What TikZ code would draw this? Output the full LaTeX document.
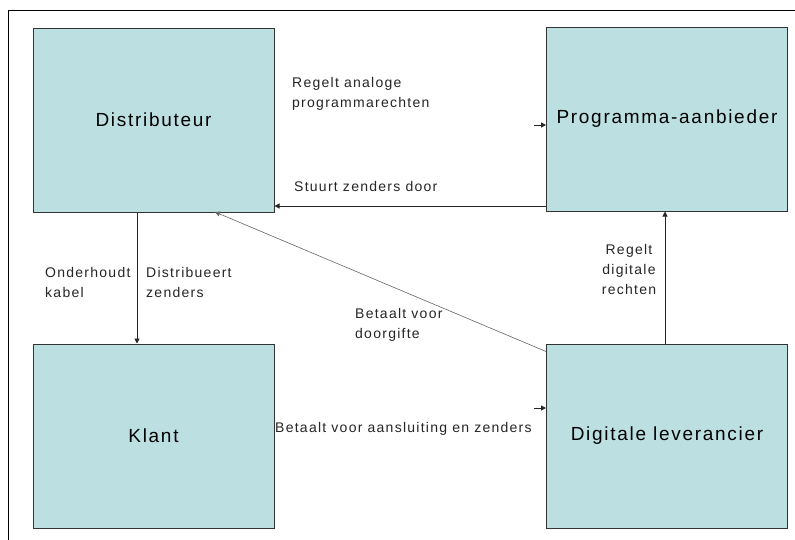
\documentclass[tikz,border=0pt]{standalone}
\usepackage{fontspec}
\setmainfont{Liberation Sans}[LetterSpace=9]
\usetikzlibrary{arrows.meta}
\definecolor{boxfill}{HTML}{BCE0E2}
\begin{document}
\begin{tikzpicture}[x=1pt,y=-1pt,
  entity/.style={draw=black!80,line width=1pt,fill=boxfill,minimum width=241pt,minimum height=184pt,inner sep=0pt,font=\fontsize{19}{22}\selectfont},
  lbl/.style={font=\fontsize{14}{20}\selectfont,align=left,inner sep=0pt,text=black!85},
  conn/.style={draw=black!85,line width=1pt,-{Triangle[length=5pt,width=5pt]}},
  thin/.style={draw=black!60,line width=0.6pt,-{Triangle[length=5pt,width=5pt]}}]
\useasboundingbox (0,0) rectangle (795,539);
\fill[white] (0,0) rectangle (795,539);
\draw[line width=1pt] (8,545) -- (8,10) -- (800,10);
\node[entity] (dist) at (153.5,120) {Distributeur};
\node[entity] (prog) at (667,119) {Programma-aanbieder};
\node[entity] (klant) at (153.5,436) {Klant};
\node[entity] (digi) at (667,436) {Digitale leverancier};
% arrows
\coordinate (a1) at (534,125);
\draw[conn] (a1) -- (prog.west |- a1);
\draw[conn] (prog.south west |- 0,206) -- (dist.south east |- 0,206);
\draw[conn] (dist.south -| 137,0) -- (klant.north -| 137,0);
\draw[thin] (digi.north west) ++(0,8) -- (215,212);
\coordinate (a5) at (534,408);
\draw[conn] (a5) -- (digi.west |- a5);
\draw[conn] (digi.north -| 665,0) -- (prog.south -| 665,0);
% labels
\node[lbl,anchor=north west] (l1) at (292,77) {Regelt analoge\\programmarechten};
\node[lbl,anchor=north west] (l2) at (294,181) {Stuurt zenders door};
\node[lbl,anchor=north west] (l3) at (45,267) {Onderhoudt\\kabel};
\node[lbl,anchor=north west] (l4) at (146,267) {Distribueert\\zenders};
\node[lbl,anchor=north west] (l5) at (355,308) {Betaalt voor\\doorgifte};
\node[lbl,anchor=north west] (l6) at (275,422) {Betaalt voor aansluiting en zenders};
\node[lbl,anchor=north,align=center] (l7) at (629,244) {Regelt\\digitale\\rechten};
\end{tikzpicture}
\end{document}
